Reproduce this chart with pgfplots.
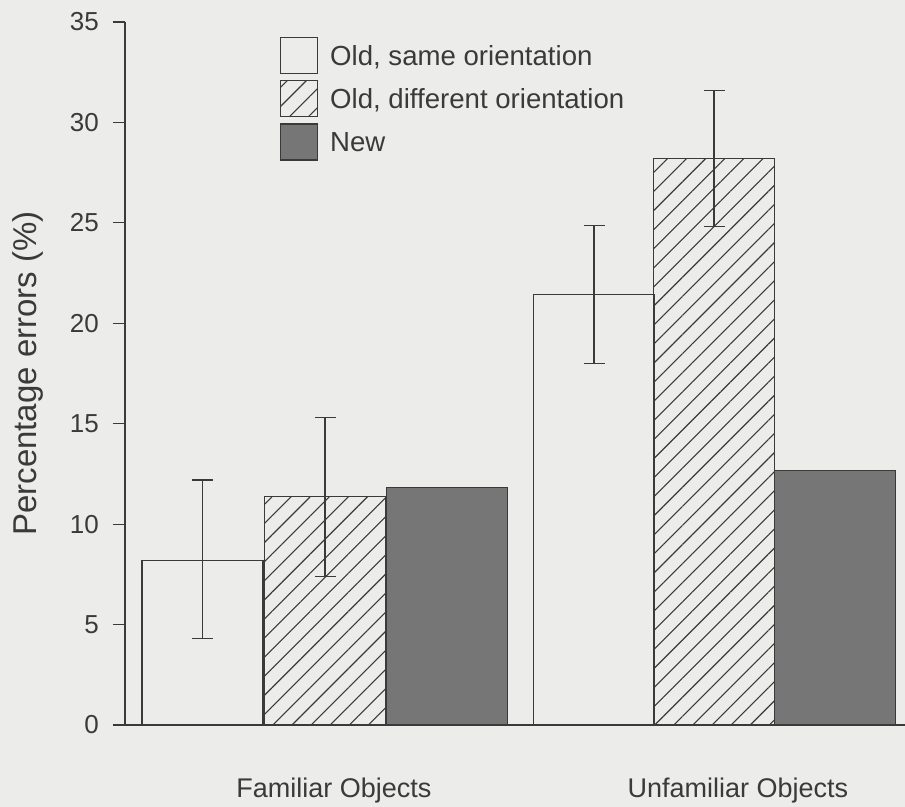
\documentclass[border=0pt]{standalone}
\usepackage{pgfplots}
\pgfplotsset{compat=1.18}
\usepackage{fontspec}
\setmainfont{Liberation Sans}
\usetikzlibrary{patterns.meta}
\definecolor{paper}{RGB}{236,236,234}
\definecolor{ink}{RGB}{58,58,58}
\definecolor{newbar}{RGB}{118,118,118}

\begin{document}
\begin{tikzpicture}[x=1bp,y=1bp]
% page background
\path[use as bounding box, fill=paper] (-125,-82) rectangle (780,725);
\begin{axis}[
  at={(0,0)}, anchor=south west,
  scale only axis, width=780bp, height=703bp,
  xmin=0, xmax=780, ymin=0, ymax=35,
  axis x line=bottom, axis y line=left,
  axis line style={-, draw=ink, line width=1.2bp},
  clip=false,
  ytick={0,5,...,35},
  tick align=outside,
  major tick length=12bp,
  ytick style={draw=ink, line width=1.2bp},
  xtick={209,613},
  xticklabels={Familiar Objects, Unfamiliar Objects},
  xtick style={draw=none},
  /pgf/number format/assume math mode=true,
  yticklabel style={font=\fontsize{26bp}{30bp}\selectfont, text=ink, anchor=east, inner sep=0pt, xshift=-14bp},
  xticklabel style={font=\fontsize{27bp}{32bp}\selectfont, text=ink, anchor=base, inner sep=0pt, yshift=-60bp},
  ylabel={Percentage errors (\%)},
  ylabel style={font=\fontsize{33bp}{39bp}\selectfont, text=ink, at={(rel axis cs:0,0.5)}, anchor=base, yshift=88bp, inner sep=0pt},
  legend style={at={(rel axis cs:0.1987,0.9787)}, anchor=north west, draw=none, fill=none,
    inner sep=0pt, outer sep=0pt, row sep=6bp, column sep=12bp,
    font=\fontsize{27.6bp}{33bp}\selectfont, text=ink,
    nodes={inner sep=0pt, text height=20bp, text depth=4bp}},
  legend cell align=left,
  legend image code/.code={\draw[#1] (0bp,-16bp) rectangle (37bp,20bp);},
]
% Old, same orientation
\addplot[ybar, bar width=121, bar shift=0pt, draw=ink, line width=1.2bp, fill=none,
  error bars/.cd, y dir=both, y explicit,
  error bar style={draw=ink, line width=1.2bp},
  error mark options={rotate=90, draw=ink, line width=1.2bp, mark size=10.5bp}]
coordinates {(77.5,8.2) += (0,4.0) -= (0,3.9) (469,21.45) += (0,3.4) -= (0,3.45)};
\addlegendentry{Old, same orientation}
% Old, different orientation
\addplot[ybar, bar width=121, bar shift=0pt, draw=ink, line width=1.2bp,
  pattern={Lines[angle=45,distance=13.5bp,line width=1.1bp]}, pattern color=ink,
  error bars/.cd, y dir=both, y explicit,
  error bar style={draw=ink, line width=1.2bp},
  error mark options={rotate=90, draw=ink, line width=1.2bp, mark size=10.5bp}]
coordinates {(200,11.36) += (0,3.95) -= (0,3.95) (589,28.2) += (0,3.4) -= (0,3.4)};
\addlegendentry{Old, different orientation}
% New
\addplot[ybar, bar width=121, bar shift=0pt, draw=ink, line width=1.2bp, fill=newbar]
coordinates {(322,11.83) (710,12.69)};
\addlegendentry{New}
\end{axis}
\end{tikzpicture}
\end{document}
